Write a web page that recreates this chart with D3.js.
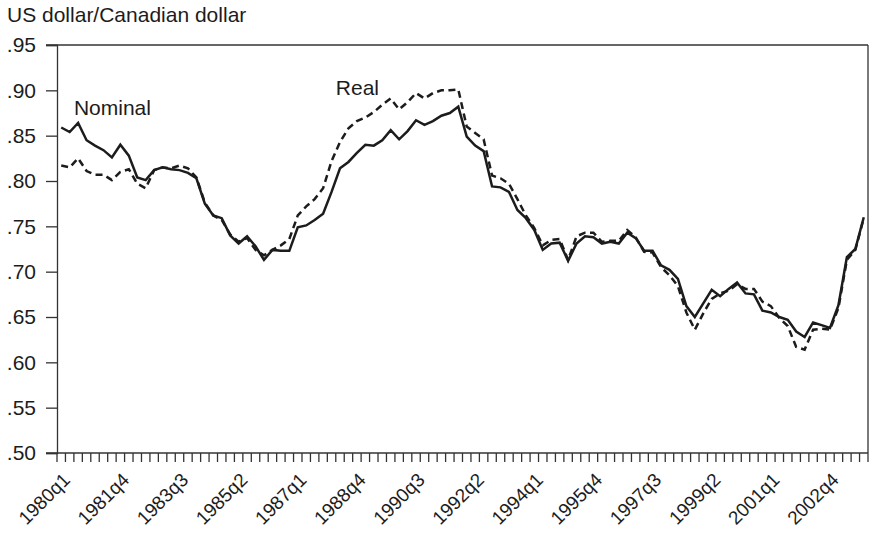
<!DOCTYPE html>
<html>
<head>
<meta charset="utf-8">
<script src="https://cdn.jsdelivr.net/npm/d3@7/dist/d3.min.js"></script>
<style>
  html, body { margin: 0; padding: 0; background: #fff; }
  svg { display: block; font-family: "Liberation Sans", Arial, sans-serif; }
</style>
</head>
<body>
<svg id="chart" width="870" height="535"></svg>
<script>
// ---- data ----
const startYear = 1980;
const nQuarters = 96; // 1980q1 .. 2003q4
const quarters = d3.range(nQuarters).map(i => (startYear + Math.floor(i / 4)) + "q" + (i % 4 + 1));

const nominal = [
  0.859, 0.854, 0.864, 0.845, 0.839, 0.834, 0.826, 0.840,
  0.828, 0.804, 0.801, 0.812, 0.815, 0.813, 0.812, 0.809,
  0.803, 0.775, 0.762, 0.759, 0.740, 0.731, 0.739, 0.728,
  0.713, 0.724, 0.723, 0.723, 0.749, 0.751, 0.757, 0.764,
  0.788, 0.814, 0.821, 0.831, 0.840, 0.839, 0.845, 0.856,
  0.846, 0.855, 0.867, 0.862, 0.866, 0.872, 0.875, 0.882,
  0.849, 0.839, 0.833, 0.794, 0.793, 0.788, 0.768, 0.759,
  0.746, 0.724, 0.731, 0.732, 0.712, 0.731, 0.739, 0.738,
  0.731, 0.733, 0.731, 0.743, 0.737, 0.723, 0.723, 0.707,
  0.702, 0.692, 0.662, 0.650, 0.665, 0.680, 0.673, 0.681,
  0.688, 0.676, 0.675, 0.657, 0.655, 0.650, 0.647, 0.634,
  0.628, 0.644, 0.641, 0.638, 0.663, 0.716, 0.725, 0.760
];

const real = [
  0.817, 0.815, 0.825, 0.811, 0.807, 0.807, 0.801, 0.810,
  0.813, 0.797, 0.792, 0.812, 0.815, 0.814, 0.817, 0.814,
  0.804, 0.776, 0.762, 0.757, 0.741, 0.733, 0.737, 0.724,
  0.718, 0.724, 0.729, 0.736, 0.762, 0.772, 0.780, 0.792,
  0.822, 0.843, 0.858, 0.866, 0.870, 0.876, 0.884, 0.891,
  0.879, 0.887, 0.897, 0.891, 0.897, 0.900, 0.900, 0.901,
  0.860, 0.853, 0.846, 0.806, 0.803, 0.797, 0.780, 0.762,
  0.748, 0.729, 0.735, 0.736, 0.713, 0.739, 0.743, 0.743,
  0.733, 0.734, 0.734, 0.746, 0.738, 0.722, 0.721, 0.705,
  0.696, 0.684, 0.655, 0.636, 0.654, 0.670, 0.676, 0.679,
  0.686, 0.681, 0.681, 0.667, 0.662, 0.649, 0.640, 0.617,
  0.614, 0.636, 0.637, 0.636, 0.660, 0.713, 0.724, 0.759
];

const xTickLabels = ["1980q1","1981q4","1983q3","1985q2","1987q1","1988q4","1990q3",
                     "1992q2","1994q1","1995q4","1997q3","1999q2","2001q1","2002q4"];
const yTicks = [0.50, 0.55, 0.60, 0.65, 0.70, 0.75, 0.80, 0.85, 0.90, 0.95];
const yTitle = "US dollar/Canadian dollar";
const seriesLabels = [
  { name: "Nominal", q: "1980q3", v: 0.873 },
  { name: "Real", q: "1988q2", v: 0.895 }
];

// ---- layout ----
const svg = d3.select("#chart");
const L = 57, R = 868, T = 45, B = 453;
const ink = "#1c1c1c";
const fs = "21px";

const x = d3.scaleBand().domain(quarters).range([L, R]).padding(0);
const bw = x.bandwidth();
const xc = q => x(q) + bw / 2;
const y = d3.scaleLinear().domain([0.50, 0.95]).range([B, T]);

// frame: top and right borders
svg.append("line").attr("x1", L - 11).attr("x2", R).attr("y1", T).attr("y2", T)
  .attr("stroke", "#333").attr("stroke-width", 1.3);
svg.append("line").attr("x1", R).attr("x2", R).attr("y1", T).attr("y2", B)
  .attr("stroke", "#333").attr("stroke-width", 1.3);

// y axis
const yAxis = svg.append("g").attr("transform", `translate(${L},0)`)
  .call(d3.axisLeft(y).tickValues(yTicks).tickSize(11).tickPadding(10)
    .tickFormat(d => d3.format(".2f")(d).replace(/^0/, "")));
yAxis.select(".domain").attr("stroke", "#333").attr("stroke-width", 1.3);
yAxis.selectAll(".tick line").attr("stroke", "#333").attr("stroke-width", 1.3);
yAxis.selectAll(".tick text").attr("fill", ink).style("font-size", fs)
  .style("font-family", "Liberation Sans, Arial, sans-serif");

// x axis: baseline and ticks at band boundaries
svg.append("line").attr("x1", L - 11).attr("x2", R).attr("y1", B).attr("y2", B)
  .attr("stroke", "#333").attr("stroke-width", 1.3);
const boundaries = quarters.map(q => x(q)).concat([R]);
svg.append("g").selectAll("line").data(boundaries).join("line")
  .attr("x1", d => d).attr("x2", d => d).attr("y1", B).attr("y2", B + 9)
  .attr("stroke", "#333").attr("stroke-width", 1.3);

svg.append("g").selectAll("text").data(xTickLabels).join("text")
  .attr("transform", d => `translate(${xc(d) + 10},${B + 28}) rotate(-45)`)
  .attr("text-anchor", "end")
  .attr("fill", ink).style("font-size", "19px")
  .text(d => d);

// y title
svg.append("text").attr("x", 7).attr("y", 22).attr("fill", ink)
  .style("font-size", fs).text(yTitle);

// lines
const line = d3.line().x((d, i) => xc(quarters[i])).y(d => y(d));
svg.append("path").datum(real).attr("d", line).attr("fill", "none")
  .attr("stroke", ink).attr("stroke-width", 2.5).attr("stroke-dasharray", "7,4.5");
svg.append("path").datum(nominal).attr("d", line).attr("fill", "none")
  .attr("stroke", ink).attr("stroke-width", 2.5).attr("stroke-linejoin", "miter");

// series labels
svg.append("g").selectAll("text").data(seriesLabels).join("text")
  .attr("x", d => x(d.q)).attr("y", d => y(d.v))
  .attr("fill", ink).style("font-size", fs)
  .text(d => d.name);
</script>
</body>
</html>
